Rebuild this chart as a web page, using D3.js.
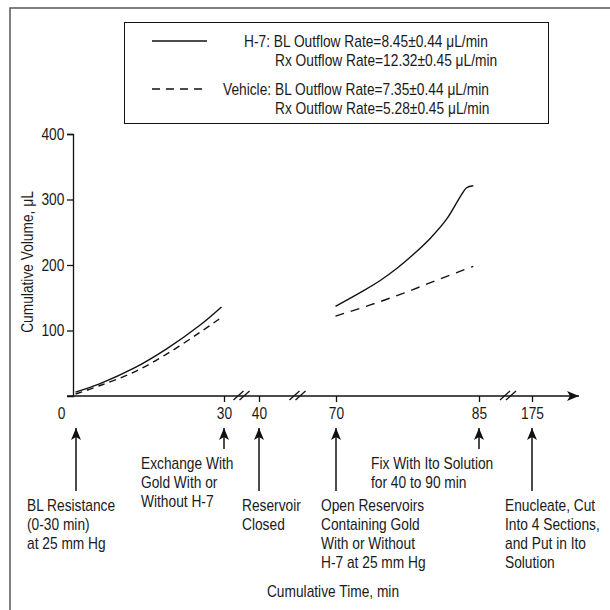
<!DOCTYPE html>
<html>
<head>
<meta charset="utf-8">
<script src="https://cdn.jsdelivr.net/npm/d3@7"></script>
<style>
    body { margin: 0; background: #fff; }
    svg text { font-family: "Liberation Sans", Arial, sans-serif; font-size: 16px; fill: #1a1a1a; }
</style>
</head>
<body>
<div id="chart"></div>
<script>
// x ticks of the broken time axis (min)
const timeTicks = [0, 30, 40, 70, 85, 175];
const volTicks = [100, 200, 300, 400];

// BL period (0-30 min)
const timeA = [0.5, 5.4, 12, 18.6, 25.2, 29.5];
const h7A = [6, 19, 42, 72, 108, 136];
const vehA = [3, 16, 36, 64, 97, 120];

// Rx period (70-85 min)
const timeB = [69.8, 72.9, 74.6, 76.4, 78.1, 79.9, 81.6, 83.1, 83.7, 84.4];
const h7B = [137, 161, 176, 195, 216, 241, 270, 306, 318, 321];
const timeVB = [69.8, 73.6, 77.1, 80.6, 84.4];
const vehB = [122, 139, 157, 177, 198];

const legendText = [
    ["H-7: BL Outflow Rate=8.45±0.44 μL/min", "Rx Outflow Rate=12.32±0.45 μL/min"],
    ["Vehicle: BL Outflow Rate=7.35±0.44 μL/min", "Rx Outflow Rate=5.28±0.45 μL/min"]
];

const noteTimes = [0, 30, 40, 70, 85, 175];
const noteLines = [
    ["BL Resistance", "(0-30 min)", "at 25 mm Hg"],
    ["Exchange With", "Gold With or", "Without H-7"],
    ["Reservoir", "Closed"],
    ["Open Reservoirs", "Containing Gold", "With or Without", "H-7 at 25 mm Hg"],
    ["Fix With Ito Solution", "for 40 to 90 min"],
    ["Enucleate, Cut", "Into 4 Sections,", "and Put in Ito", "Solution"]
];
const breakTimes = [35, 55, 130];

const width = 610, height = 610;
const squeeze = 0.86; // condensed look of the original type
const svg = d3.select("#chart").append("svg")
    .attr("width", width)
    .attr("height", height);

// piecewise scale, the axis is broken between segments
const x = d3.scaleLinear()
    .domain([0, 30, 40, 70, 85, 130, 175])
    .range([73, 224, 259, 336, 479, 508, 532]);
const y = d3.scaleLinear().domain([0, 400]).range([396, 134]);

function label(parent, px, py, lines, anchor) {
    const t = parent.append("text")
        .attr("transform", `translate(${px},${py}) scale(${squeeze},1)`)
        .attr("text-anchor", anchor || "start");
    lines.forEach((s, j) => {
        t.append("tspan").attr("x", 0).attr("dy", j === 0 ? 0 : 19).text(s);
    });
    return t;
}

const defs = svg.append("defs");
defs.append("marker")
    .attr("id", "head")
    .attr("viewBox", "0 0 12 10")
    .attr("refX", 12).attr("refY", 5)
    .attr("markerWidth", 12).attr("markerHeight", 10)
    .attr("markerUnits", "userSpaceOnUse")
    .attr("orient", "auto-start-reverse")
    .append("path")
    .attr("d", "M0,0 L12,5 L0,10 L3,5 Z")
    .attr("fill", "#111");

// outer frame (only top and left visible)
svg.append("path")
    .attr("d", "M10,610 L10,8 L610,8")
    .attr("fill", "none")
    .attr("stroke", "#555")
    .attr("stroke-width", 1.5);

// legend
const lg = svg.append("g");
lg.append("rect")
    .attr("x", 124.5).attr("y", 22.5)
    .attr("width", 424).attr("height", 101)
    .attr("fill", "none").attr("stroke", "#111");
[[41, null, 244, 46.5], [89, "8,6", 223, 94.5]].forEach((row, i) => {
    lg.append("line")
        .attr("x1", 152).attr("x2", 207)
        .attr("y1", row[0]).attr("y2", row[0])
        .attr("stroke", "#111").attr("stroke-width", 1.3)
        .attr("stroke-dasharray", row[1]);
    label(lg, row[2], row[3], [legendText[i][0]]);
    label(lg, 275, row[3] + 19, [legendText[i][1]]);
});

// y axis
const yAxis = svg.append("g")
    .attr("transform", "translate(73,0)")
    .call(d3.axisLeft(y).tickValues(volTicks).tickSize(6).tickSizeOuter(6).tickPadding(4));
yAxis.selectAll("path, line").attr("stroke", "#111").attr("stroke-width", 1.3);
yAxis.selectAll("text").attr("font-size", null).attr("font-family", null)
    .attr("transform", `scale(${squeeze},1)`);

svg.append("text")
    .attr("transform", `translate(33,262) rotate(-90) scale(${squeeze},1)`)
    .attr("text-anchor", "middle")
    .text("Cumulative Volume, μL");

// x axis with arrow
svg.append("line")
    .attr("x1", 67).attr("x2", 579)
    .attr("y1", 396).attr("y2", 396)
    .attr("stroke", "#111").attr("stroke-width", 1.3)
    .attr("marker-end", "url(#head)");

const xAxis = svg.append("g")
    .attr("transform", "translate(0,396)")
    .call(d3.axisBottom(x).tickValues(timeTicks).tickSize(6).tickPadding(6));
xAxis.select(".domain").remove();
xAxis.selectAll("line").attr("stroke", "#111").attr("stroke-width", 1.3);
xAxis.selectAll("text").attr("font-size", null).attr("font-family", null)
    .attr("transform", `scale(${squeeze},1)`);
xAxis.selectAll(".tick").filter(d => d === 0).select("line").remove();
xAxis.selectAll(".tick").filter(d => d === 0).select("text").attr("x", -14);

// axis breaks
breakTimes.forEach(t => {
    const cx = x(t);
    [-3, 3].forEach(dx => {
        svg.append("line")
            .attr("x1", cx + dx - 5).attr("y1", 400)
            .attr("x2", cx + dx + 5).attr("y2", 391)
            .attr("stroke", "#111").attr("stroke-width", 1.3);
    });
});

// curves
const line = d3.line()
    .x(d => x(d[0]))
    .y(d => y(d[1]))
    .curve(d3.curveCatmullRom.alpha(0.5));

const series = [
    {t: timeA, v: h7A, dash: null},
    {t: timeA, v: vehA, dash: "7,5"},
    {t: timeB, v: h7B, dash: null},
    {t: timeVB, v: vehB, dash: "9,7"}
];
series.forEach(s => {
    svg.append("path")
        .datum(s.t.map((t, i) => [t, s.v[i]]))
        .attr("fill", "none")
        .attr("stroke", "#111")
        .attr("stroke-width", 1.4)
        .attr("stroke-dasharray", s.dash)
        .attr("d", line);
});

// event annotations below the axis
const noteLayout = [
    {dx: 3, len: 63, tx: -49},
    {dx: 0, len: 21, tx: -83},
    {dx: 0, len: 63, tx: -17},
    {dx: 0, len: 63, tx: -15},
    {dx: 0, len: 21, tx: -108},
    {dx: 0, len: 63, tx: -27}
];
noteTimes.forEach((t, i) => {
    const ax = x(t) + noteLayout[i].dx;
    const len = noteLayout[i].len;
    svg.append("line")
        .attr("x1", ax).attr("x2", ax)
        .attr("y1", 428 + len).attr("y2", 428)
        .attr("stroke", "#111").attr("stroke-width", 1.5)
        .attr("marker-end", "url(#head)");
    label(svg, ax + noteLayout[i].tx, 428 + len + 20, noteLines[i]);
});

label(svg, 333, 597, ["Cumulative Time, min"], "middle");
</script>
</body>
</html>
